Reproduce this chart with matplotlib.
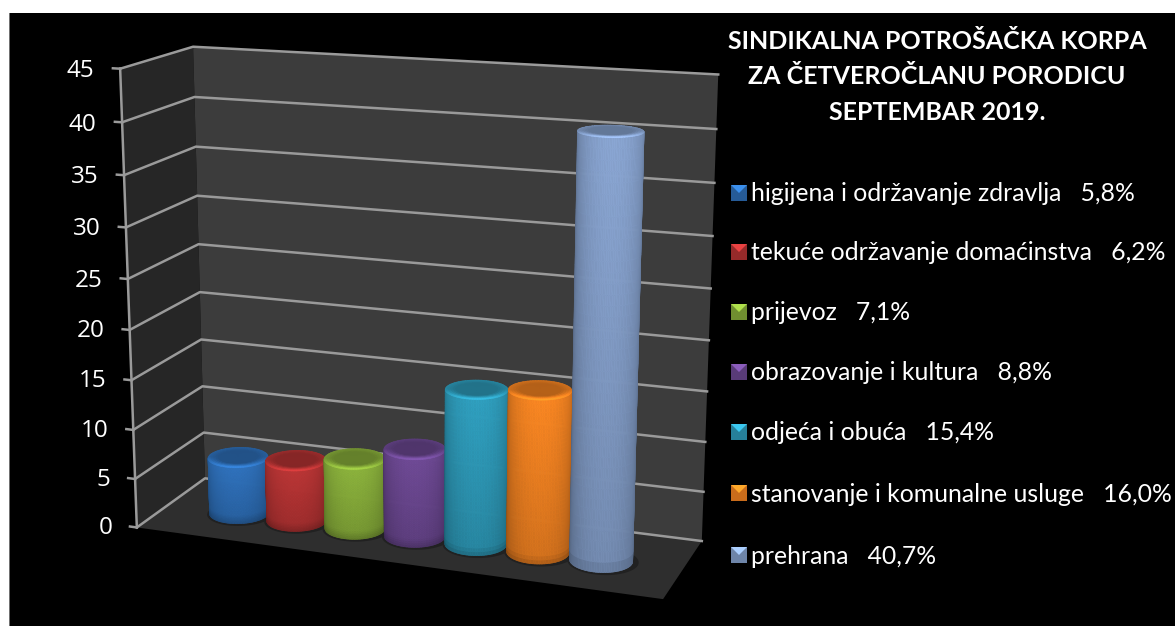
import numpy as np
import matplotlib
matplotlib.use('Agg')
import matplotlib.pyplot as plt
from matplotlib.patches import Rectangle, Polygon
from mpl_toolkits.mplot3d.art3d import Poly3DCollection

plt.rcParams['font.family'] = ['Lato', 'DejaVu Sans']

names = ['higijena i održavanje zdravlja', 'tekuće održavanje domaćinstva', 'prijevoz',
         'obrazovanje i kultura', 'odjeća i obuća', 'stanovanje i komunalne usluge', 'prehrana']
percent_labels = ['5,8%', '6,2%', '7,1%', '8,8%', '15,4%', '16,0%', '40,7%']
values = [5.8, 6.2, 7.1, 8.8, 15.4, 16.0, 40.7]
colors = ['#2f72bd', '#bb3535', '#8cb33c', '#6f4a96', '#2fa0c0', '#fb8722', '#8aa6d3']
ticks = [0, 5, 10, 15, 20, 25, 30, 35, 40, 45]
title = 'SINDIKALNA POTROŠAČKA KORPA\nZA ČETVEROČLANU PORODICU\nSEPTEMBAR 2019.'

W, H = 1175, 626
fig = plt.figure(figsize=(W / 100, H / 100), dpi=100, facecolor='white')
fig.patches.append(Rectangle((10 / W, 0), 1, 613 / H, transform=fig.transFigure,
                             facecolor='black', edgecolor='none', zorder=-1))
fig.patches.append(Rectangle((9 / W, 0), 1 / W, 613 / H, transform=fig.transFigure,
                             facecolor='#707070', edgecolor='none', zorder=-1))

# camera fitted to the corners of the chart box
azim = -69.774
aspect = (1, 0.2913, 0.8556)
ax = fig.add_axes([40.9 / W, -59.2 / H, 731.7 / W, 731.7 / H], projection='3d', computed_zorder=False)
ax.set_axis_off()
ax.patch.set_alpha(0)
ax.set_xlim(0, 7, view_margin=0)
ax.set_ylim(0, 1, view_margin=0)
ax.set_zlim(0, 45, view_margin=0)
ax.view_init(elev=14.944, azim=azim, roll=0.052)
ax.set_proj_type('persp', focal_length=0.5477)
ax.set_box_aspect(aspect)

# cylinder ellipse half axes in box units, across and along the view direction
rad_a = 0.056
rad_b = 0.056 * 1.05
x_centers = [1.02 + 0.825 * i for i in range(len(values))]
y_center = 0.47
az = np.radians(azim)
across = np.array([-np.sin(az) * 7, np.cos(az) / aspect[1]])
toward = np.array([np.cos(az) * 7, np.sin(az) / aspect[1]])


def ellipse(xc, t, k=1.0):
    x = xc + k * (rad_a * np.cos(t) * across[0] + rad_b * np.sin(t) * toward[0])
    y = y_center + k * (rad_a * np.cos(t) * across[1] + rad_b * np.sin(t) * toward[1])
    return x, y


def wall(pts, col, z):
    ax.add_collection3d(Poly3DCollection([pts], facecolors=col, edgecolors='none', zorder=z))


wall([(0, 0, 0), (0, 1, 0), (0, 1, 45), (0, 0, 45)], '#262626', 1)
wall([(0, 1, 0), (7, 1, 0), (7, 1, 45), (0, 1, 45)], '#3c3c3c', 1)
wall([(0, 0, 0), (7, 0, 0), (7, 1, 0), (0, 1, 0)], '#2e2e2e', 1)
for v in ticks:
    ax.plot([0, 0, 7], [0, 1, 1], [v, v, v], color='#9a9a9a', lw=1.8, zorder=2)
    ax.plot([-0.1, 0], [0, 0], [v, v], color='#9a9a9a', lw=1.8, zorder=2)
    ax.text(-0.36, 0, v - 0.4, str(v), color='white', fontsize=17.5, family='Open Sans', ha='right', va='center', zorder=3)
ax.plot([0, 0], [0, 0], [0, 45], color='#9a9a9a', lw=1.8, zorder=2)


def cylinder(xc, val, col, z):
    base = np.array(matplotlib.colors.to_rgb(col))
    th = np.linspace(-0.03, np.pi + 0.03, 61)
    zz = np.linspace(0, val, 41)
    T, Z = np.meshgrid(th, zz)
    X, Y = ellipse(xc, T)
    tm = (T[:-1, :-1] + T[1:, 1:]) / 2
    zm = (Z[:-1, :-1] + Z[1:, 1:]) / 2
    light = 0.66 + 0.34 * np.clip(np.sin(tm), 0, 1) ** 0.7
    fade = 0.84 + 0.16 * zm / val
    fade = fade * (0.82 + 0.18 * np.clip(zm / 0.9, 0, 1))
    fc = np.clip(base[None, None, :] * (light * fade)[..., None], 0, 1)
    fc = np.dstack([fc, np.ones(fc.shape[:2])])
    ax.plot_surface(X, Y, Z, facecolors=fc, rstride=1, cstride=1, shade=False, linewidth=0.5, zorder=z)
    # top cap, darker in the middle with a light front rim
    rr = np.linspace(0, 1, 13)
    th2 = np.linspace(0, 2 * np.pi, 73)
    R, T2 = np.meshgrid(rr, th2)
    Xc, Yc = ellipse(xc, T2, R)
    Zc = np.full_like(R, val)
    rm = (R[:-1, :-1] + R[1:, 1:]) / 2
    tm2 = (T2[:-1, :-1] + T2[1:, 1:]) / 2
    front = np.clip(np.sin(tm2), 0, 1)
    shade = 0.72 + (rm > 0.65) * (rm - 0.65) / 0.35 * (0.12 + 0.42 * front)
    fc2 = np.clip(base[None, None, :] * shade[..., None], 0, 1)
    fc2 = np.dstack([fc2, np.ones(fc2.shape[:2])])
    ax.plot_surface(Xc, Yc, Zc, facecolors=fc2, rstride=1, cstride=1, shade=False, linewidth=0.5, zorder=z + 0.5)


# shadows on the floor
for xc in x_centers:
    t = np.linspace(0, 2 * np.pi, 60)
    sx, sy = ellipse(xc + 0.03, t, 1.13)
    wall(list(zip(sx, sy - 0.01, np.zeros(60))), '#212121', 1.5)
for i, (xc, val, col) in enumerate(zip(x_centers, values, colors)):
    cylinder(xc, val, col, 10 + i)

fig.text(937 / W, 1 - 77 / H, title, color='white', fontsize=18, fontweight='bold', ha='center', va='center', linespacing=1.67)

legend_y = [193, 252, 312, 372, 432, 493, 555]
for name, pct, col, ly in zip(names, percent_labels, colors, legend_y):
    base = np.array(matplotlib.colors.to_rgb(col))
    x0, y0, a = 731, ly - 8, 16
    fig.patches.append(Rectangle((x0 / W, 1 - (y0 + a) / H), a / W, a / H, transform=fig.transFigure,
                                 facecolor=base * 0.8, edgecolor='none'))
    fig.patches.append(Polygon([(x0 / W, 1 - y0 / H), ((x0 + a) / W, 1 - y0 / H), ((x0 + a / 2) / W, 1 - (y0 + a / 2) / H)],
                               transform=fig.transFigure, facecolor=np.clip(base * 1.25, 0, 1), edgecolor='none'))
    fig.text(751 / W, 1 - (ly + 1) / H, f'{name}   {pct}', color='white', fontsize=17.8, ha='left', va='center')

fig.savefig('out.png', dpi=100, facecolor=fig.get_facecolor())
